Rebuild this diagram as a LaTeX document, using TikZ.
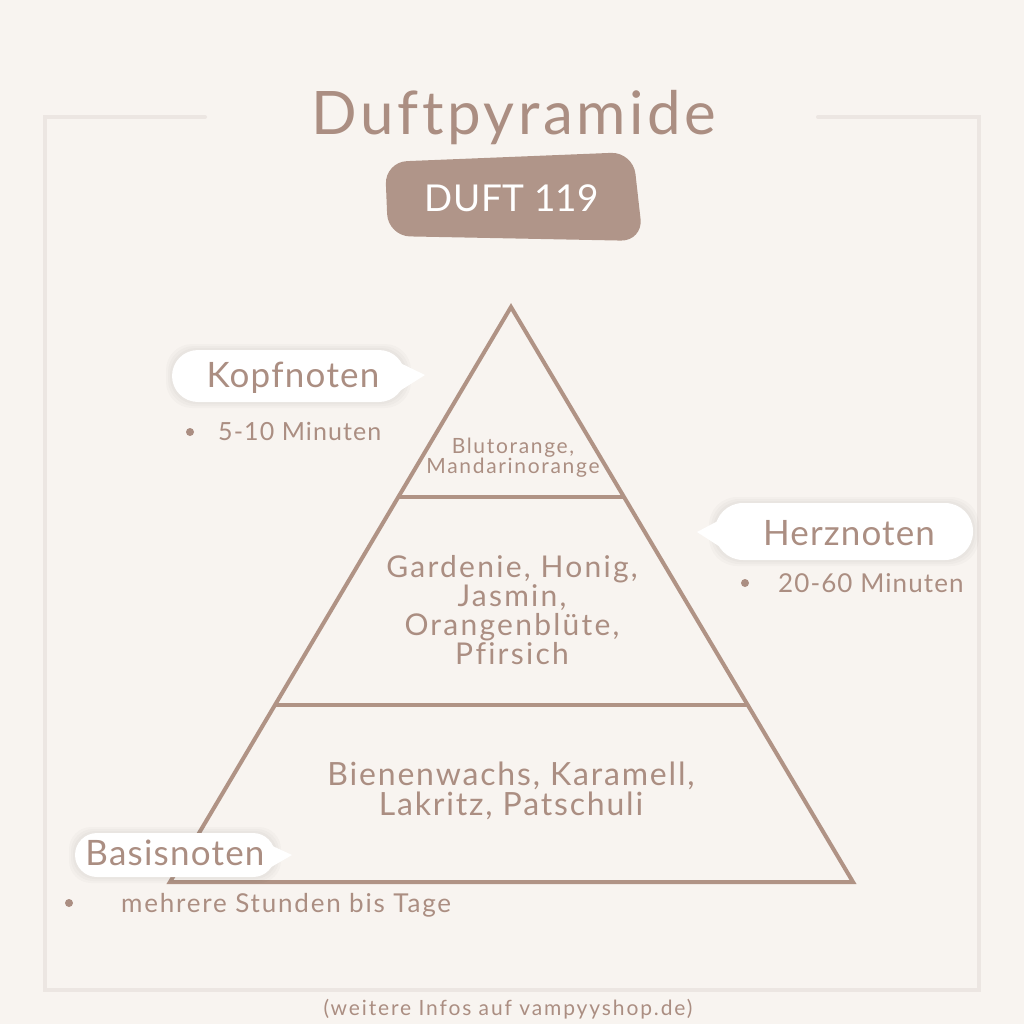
\documentclass[tikz,border=0pt]{standalone}
\usepackage{fontspec}
\setmainfont{Lato}[Ligatures={NoCommon}]
\usetikzlibrary{calc}
\definecolor{bgc}{HTML}{F8F4F0}
\definecolor{framec}{HTML}{ECE6E2}
\definecolor{linec}{HTML}{B09385}
\definecolor{txtc}{HTML}{AB8E82}
\definecolor{badgec}{HTML}{B09589}
\newcommand{\fsz}[2]{\fontsize{#1}{#1}\selectfont\addfontfeature{LetterSpace=#2}}
\begin{document}
\begin{tikzpicture}[x=1pt,y=-1pt,
  lbl/.style={text=txtc, inner sep=0pt, anchor=base},
  pyr/.style={draw=linec, line width=4pt, line join=miter},
  dotb/.style={circle, fill=txtc, inner sep=0pt, minimum size=8pt},
  shad/.style={black, opacity=0.018}]
\fill[bgc] (0,0) rectangle (1024,1024);
\useasboundingbox (0,0) rectangle (1024,1024);
% frame
\draw[framec, line width=4pt, line cap=round] (205,117) -- (45,117) -- (45,990) -- (979,990) -- (979,117) -- (818,117);
% title
\node[lbl, font=\fsz{60}{6}] (title) at (514,135) {Duftpyramide};
% badge
\fill[badgec, rounded corners=22pt] (385,162) -- (633,152) -- (643,241) -- (388,236) -- cycle;
\node[lbl, text=white, font=\fsz{37}{1}] (badge) at (512,212) {DUFT 119};
% pyramid
\coordinate (apex) at (511,307);
\coordinate (bl) at (170,882);
\coordinate (br) at (853,882);
\coordinate (t1l) at (398,497);
\coordinate (t1r) at (624,497);
\coordinate (t2l) at (275,705);
\coordinate (t2r) at (748,705);
\draw[pyr] (apex) -- (br) -- (bl) -- cycle;
\draw[pyr] (t1l) -- (t1r);
\draw[pyr] (t2l) -- (t2r);
% pyramid texts
\node[lbl, font=\fsz{21}{8}] (top1) at (513,453) {Blutorange,};
\node[lbl, font=\fsz{21}{8}] (top2) at (513,473) {Mandarinorange};
\node[lbl, font=\fsz{30}{7.5}] (mid1) at (512,577) {Gardenie, Honig,};
\node[lbl, font=\fsz{30}{7.5}] (mid2) at (512,606) {Jasmin,};
\node[lbl, font=\fsz{30}{7.5}] (mid3) at (512,635) {Orangenblüte,};
\node[lbl, font=\fsz{30}{7.5}] (mid4) at (512,664) {Pfirsich};
\node[lbl, font=\fsz{32}{5.7}] (bot1) at (511,785) {Bienenwachs, Karamell,};
\node[lbl, font=\fsz{32}{5.7}] (bot2) at (511,815) {Lakritz, Patschuli};
% Kopfnoten bubble
\coordinate (k1) at (172,350);
\coordinate (k2) at (405,402);
\begin{scope}[yshift=-4pt]
\foreach \e in {0,2,4,6} \fill[shad, rounded corners=26pt] ($(k1)+(-\e,-\e)$) rectangle ($(k2)+(\e,\e)$);
\end{scope}
\fill[white, rounded corners=26pt] (k1) rectangle (k2);
\fill[white] (398,362) -- (425,375) -- (398,392) -- cycle;
\node[lbl, font=\fsz{35}{3.6}] (kopf) at (293,387) {Kopfnoten};
\node[dotb] (kdot) at (190,432) {};
\node[lbl, anchor=base west, font=\fsz{25}{4.4}] (ktime) at (218,440) {5-10 Minuten};
% Herznoten bubble
\coordinate (h1) at (715,503);
\coordinate (h2) at (973,560);
\begin{scope}[yshift=-4pt]
\foreach \e in {0,2,4,6} \fill[shad, rounded corners=28pt] ($(h1)+(-\e,-\e)$) rectangle ($(h2)+(\e,\e)$);
\end{scope}
\fill[white, rounded corners=28pt] (h1) rectangle (h2);
\fill[white] (735,512) -- (697,532) -- (728,552) -- cycle;
\node[lbl, font=\fsz{35}{3.2}] (herz) at (849,545) {Herznoten};
\node[dotb] (hdot) at (745,583) {};
\node[lbl, anchor=base west, font=\fsz{26}{4.2}] (htime) at (778,592) {20-60 Minuten};
% Basisnoten bubble
\coordinate (b1) at (75,833);
\coordinate (b2) at (275,877);
\begin{scope}[yshift=-4pt]
\foreach \e in {0,2,4,6} \fill[shad, rounded corners=22pt] ($(b1)+(-\e,-\e)$) rectangle ($(b2)+(\e,\e)$);
\end{scope}
\fill[white, rounded corners=22pt] (b1) rectangle (b2);
\fill[white] (266,843) -- (292,855) -- (266,870) -- cycle;
\node[lbl, font=\fsz{35}{3.5}] (basis) at (175,865) {Basisnoten};
\node[dotb] (bdot) at (69,903) {};
\node[lbl, anchor=base west, font=\fsz{26}{6.9}] (btime) at (121,912) {mehrere Stunden bis Tage};
% footer
\node[lbl, font=\fsz{21}{9}] (foot) at (508,1015) {(weitere Infos auf vampyyshop.de)};
\end{tikzpicture}
\end{document}
